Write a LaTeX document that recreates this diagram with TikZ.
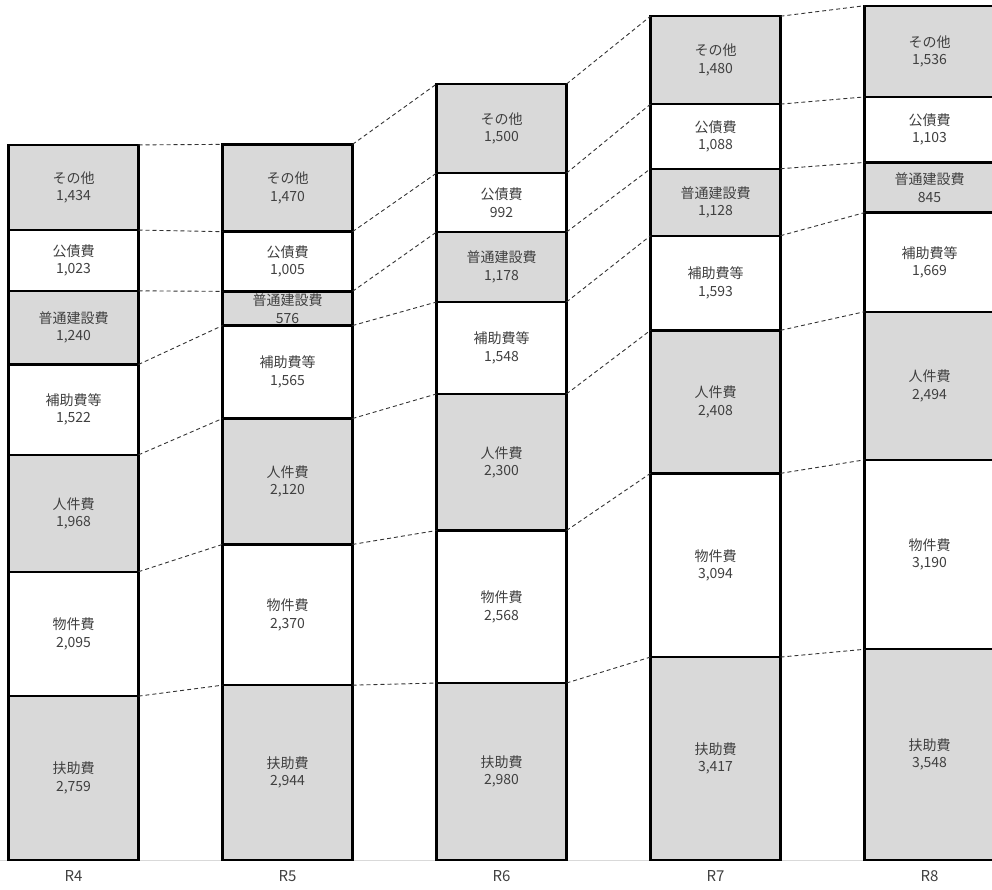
\documentclass[tikz,border=0pt]{standalone}
\usepackage{fontspec}
\setmainfont{Noto Sans CJK JP}
\usetikzlibrary{positioning}
\definecolor{barfill}{HTML}{D9D9D9}
\definecolor{labeltext}{HTML}{404040}
\definecolor{linkgray}{HTML}{333333}
\tikzset{
  seg/.style={draw=black, line width=2.4pt, minimum width=130pt,
    minimum height=#1*0.05938pt, inner sep=0pt, outer sep=0pt,
    align=center, text=labeltext, font=\fontsize{14}{17.5}\selectfont},
  grayseg/.style={seg=#1, fill=barfill},
  whiteseg/.style={seg=#1, fill=white},
  link/.style={linkgray, line width=0.9pt, dash pattern=on 4pt off 3pt},
  yearlabel/.style={text=labeltext, font=\fontsize{15}{17}\selectfont}
}
\begin{document}
\begin{tikzpicture}[x=1pt,y=1pt]
  \useasboundingbox (0,-29) rectangle (992,860);
  \clip (0,-29) rectangle (992,860);
  \draw[barfill, line width=1pt] (0,0) -- (992,0);

  % R4
  \node[grayseg=2759, anchor=south west] (r4a) at (8.5,0) {扶助費\\2,759};
  \node[whiteseg=2095, above=0pt of r4a] (r4b) {物件費\\2,095};
  \node[grayseg=1968, above=0pt of r4b] (r4c) {人件費\\1,968};
  \node[whiteseg=1522, above=0pt of r4c] (r4d) {補助費等\\1,522};
  \node[grayseg=1240, above=0pt of r4d] (r4e) {普通建設費\\1,240};
  \node[whiteseg=1023, above=0pt of r4e] (r4f) {公債費\\1,023};
  \node[grayseg=1434, above=0pt of r4f] (r4g) {その他\\1,434};

  % R5
  \node[grayseg=2944, anchor=south west] (r5a) at (222.5,0) {扶助費\\2,944};
  \node[whiteseg=2370, above=0pt of r5a] (r5b) {物件費\\2,370};
  \node[grayseg=2120, above=0pt of r5b] (r5c) {人件費\\2,120};
  \node[whiteseg=1565, above=0pt of r5c] (r5d) {補助費等\\1,565};
  \node[grayseg=576, above=0pt of r5d] (r5e) {普通建設費\\576};
  \node[whiteseg=1005, above=0pt of r5e] (r5f) {公債費\\1,005};
  \node[grayseg=1470, above=0pt of r5f] (r5g) {その他\\1,470};

  % R6
  \node[grayseg=2980, anchor=south west] (r6a) at (436.5,0) {扶助費\\2,980};
  \node[whiteseg=2568, above=0pt of r6a] (r6b) {物件費\\2,568};
  \node[grayseg=2300, above=0pt of r6b] (r6c) {人件費\\2,300};
  \node[whiteseg=1548, above=0pt of r6c] (r6d) {補助費等\\1,548};
  \node[grayseg=1178, above=0pt of r6d] (r6e) {普通建設費\\1,178};
  \node[whiteseg=992, above=0pt of r6e] (r6f) {公債費\\992};
  \node[grayseg=1500, above=0pt of r6f] (r6g) {その他\\1,500};

  % R7
  \node[grayseg=3417, anchor=south west] (r7a) at (650.5,0) {扶助費\\3,417};
  \node[whiteseg=3094, above=0pt of r7a] (r7b) {物件費\\3,094};
  \node[grayseg=2408, above=0pt of r7b] (r7c) {人件費\\2,408};
  \node[whiteseg=1593, above=0pt of r7c] (r7d) {補助費等\\1,593};
  \node[grayseg=1128, above=0pt of r7d] (r7e) {普通建設費\\1,128};
  \node[whiteseg=1088, above=0pt of r7e] (r7f) {公債費\\1,088};
  \node[grayseg=1480, above=0pt of r7f] (r7g) {その他\\1,480};

  % R8
  \node[grayseg=3548, anchor=south west] (r8a) at (864.5,0) {扶助費\\3,548};
  \node[whiteseg=3190, above=0pt of r8a] (r8b) {物件費\\3,190};
  \node[grayseg=2494, above=0pt of r8b] (r8c) {人件費\\2,494};
  \node[whiteseg=1669, above=0pt of r8c] (r8d) {補助費等\\1,669};
  \node[grayseg=845, above=0pt of r8d] (r8e) {普通建設費\\845};
  \node[whiteseg=1103, above=0pt of r8e] (r8f) {公債費\\1,103};
  \node[grayseg=1536, above=0pt of r8f] (r8g) {その他\\1,536};

  % links R4 - R5
  \draw[link] (r4a.north east) -- (r5a.north west);
  \draw[link] (r4b.north east) -- (r5b.north west);
  \draw[link] (r4c.north east) -- (r5c.north west);
  \draw[link] (r4d.north east) -- (r5d.north west);
  \draw[link] (r4e.north east) -- (r5e.north west);
  \draw[link] (r4f.north east) -- (r5f.north west);
  \draw[link] (r4g.north east) -- (r5g.north west);
  % links R5 - R6
  \draw[link] (r5a.north east) -- (r6a.north west);
  \draw[link] (r5b.north east) -- (r6b.north west);
  \draw[link] (r5c.north east) -- (r6c.north west);
  \draw[link] (r5d.north east) -- (r6d.north west);
  \draw[link] (r5e.north east) -- (r6e.north west);
  \draw[link] (r5f.north east) -- (r6f.north west);
  \draw[link] (r5g.north east) -- (r6g.north west);
  % links R6 - R7
  \draw[link] (r6a.north east) -- (r7a.north west);
  \draw[link] (r6b.north east) -- (r7b.north west);
  \draw[link] (r6c.north east) -- (r7c.north west);
  \draw[link] (r6d.north east) -- (r7d.north west);
  \draw[link] (r6e.north east) -- (r7e.north west);
  \draw[link] (r6f.north east) -- (r7f.north west);
  \draw[link] (r6g.north east) -- (r7g.north west);
  % links R7 - R8
  \draw[link] (r7a.north east) -- (r8a.north west);
  \draw[link] (r7b.north east) -- (r8b.north west);
  \draw[link] (r7c.north east) -- (r8c.north west);
  \draw[link] (r7d.north east) -- (r8d.north west);
  \draw[link] (r7e.north east) -- (r8e.north west);
  \draw[link] (r7f.north east) -- (r8f.north west);
  \draw[link] (r7g.north east) -- (r8g.north west);

  % year labels
  \node[yearlabel, below=7pt of r4a] (y4) {R4};
  \node[yearlabel, below=7pt of r5a] (y5) {R5};
  \node[yearlabel, below=7pt of r6a] (y6) {R6};
  \node[yearlabel, below=7pt of r7a] (y7) {R7};
  \node[yearlabel, below=7pt of r8a] (y8) {R8};
\end{tikzpicture}
\end{document}
